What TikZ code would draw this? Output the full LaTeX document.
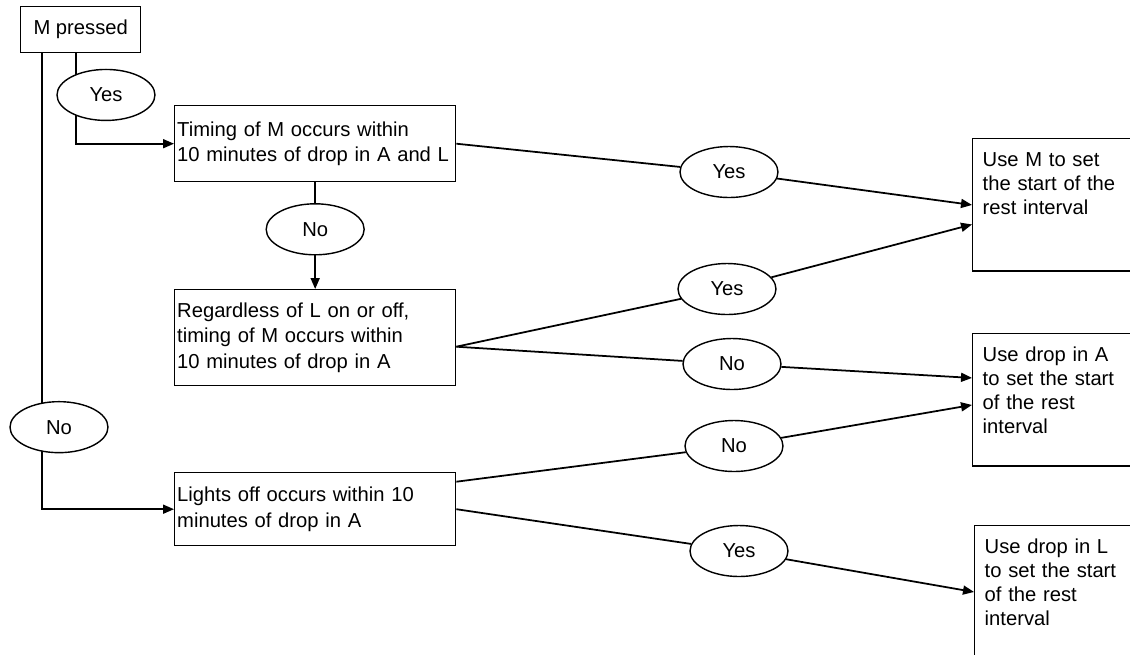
\documentclass[tikz,border=0pt]{standalone}
\usepackage{fontspec}
\setmainfont{Liberation Sans}
\usetikzlibrary{positioning, arrows.meta, shapes.geometric}

\begin{document}
\begin{tikzpicture}[
    x=0.02cm, y=-0.02cm,
    box/.style={rectangle, draw, line width=0.8pt, anchor=north west,
                minimum width=5.62cm, text width=5.52cm, inner xsep=0.05cm,
                align=left, font=\fontsize{11.5}{14.5}\selectfont},
    outbox/.style={rectangle, draw, line width=0.8pt, anchor=north west,
                   text width=3cm, inner xsep=0.2cm, inner ysep=0.16cm,
                   text height=0.39cm, align=left,
                   font=\fontsize{11.5}{13.8}\selectfont},
    choice/.style={ellipse, draw, fill=white, line width=0.8pt,
                   minimum width=1.96cm, minimum height=1.02cm, inner sep=0pt,
                   font=\fontsize{11.5}{14}\selectfont},
    link/.style={line width=1pt},
    arrow/.style={-{Triangle[length=0.22cm, width=0.18cm]}, line width=1pt},
  ]
  \useasboundingbox (0,0) rectangle (1130,654);
  \clip (0,0) rectangle (1130,654);

  % questions
  \node[box, minimum width=2.4cm, text width=, inner xsep=0.18cm, minimum height=0.92cm] (mp) at (20,6) {M pressed};
  \node[box, minimum height=1.52cm] (timing) at (174,105)
    {Timing of M occurs within\\10 minutes of drop in A and L};
  \node[box, minimum height=1.92cm] (regard) at (174,289)
    {Regardless of L on or off,\\timing of M occurs within\\10 minutes of drop in A};
  \node[box, minimum height=1.46cm] (lights) at (174,472)
    {Lights off occurs within 10\\minutes of drop in A};

  % outcomes
  \node[outbox, text depth=1.94cm] (useM) at (972,138)
    {Use M to set\\the start of the\\rest interval};
  \node[outbox, text depth=1.94cm] (useA) at (972,333)
    {Use drop in A\\to set the start\\of the rest\\interval};
  \node[outbox, text depth=3cm] (useL) at (974,525)
    {Use drop in L\\to set the start\\of the rest\\interval};

  % answers
  \node[choice] (yes1) at (729,172) {Yes};
  \node[choice] (yes2) at (727,289) {Yes};
  \node[choice] (no2) at (732,364) {No};
  \node[choice] (no3) at (734,446) {No};
  \node[choice] (yes4) at (739,551) {Yes};

  \draw[arrow] ([xshift=1.12cm]mp.south west) |- node[choice, pos=0.23, xshift=0.6cm] (yesA) {Yes} (timing.west);
  \draw[arrow] ([xshift=0.44cm]mp.south west) |- node[choice, pos=0.41, xshift=0.34cm] (noL) {No} (lights.west);
  \draw[arrow] (timing.south) -- node[choice, pos=0.44] (noB) {No} (regard.north);

  \coordinate (rq) at ([yshift=-0.18cm]regard.east);
  \coordinate (lq) at ([yshift=0.55cm]lights.east);

  \draw[link] (timing.east) -- (yes1);
  \draw[arrow] (yes1) -- (useM.west);
  \draw[link] (rq) -- (yes2);
  \draw[arrow] (yes2) -- ([yshift=-0.39cm]useM.west);
  \draw[link] (rq) -- (no2);
  \draw[arrow] (no2) -- ([yshift=0.44cm]useA.west);
  \draw[link] (lq) -- (no3);
  \draw[arrow] (no3) -- ([yshift=-0.1cm]useA.west);
  \draw[link] (lights.east) -- (yes4);
  \draw[arrow] (yes4) -- ([yshift=-1.34cm]useL.north west);
\end{tikzpicture}
\end{document}
